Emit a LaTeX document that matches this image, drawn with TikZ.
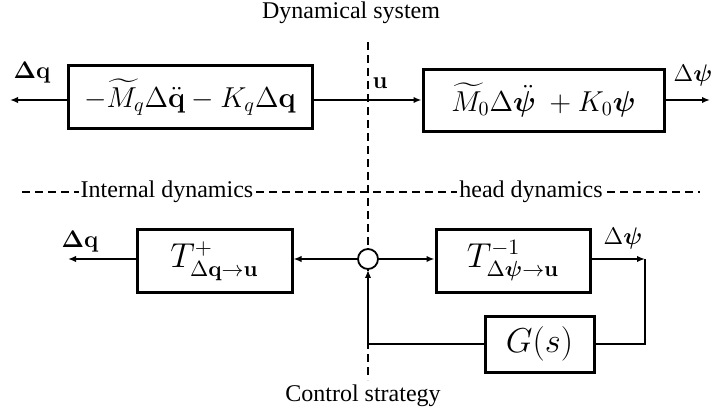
\documentclass[tikz,border=0pt]{standalone}
\usepackage{amsmath,bm}
\usepackage[no-math]{fontspec}
\setmainfont{Liberation Serif}
\usetikzlibrary{arrows.meta,positioning}

\begin{document}
\begin{tikzpicture}[x=0.5pt,y=-0.5pt,>={Latex[length=4pt,width=3.2pt]},
  blk/.style={draw,line width=1.5pt,inner sep=0pt,font=\fontsize{16}{18}\selectfont},
  wide/.style={font=\fontsize{14}{16}\selectfont},
  lbl/.style={font=\fontsize{12}{14}\selectfont},
  txt/.style={font=\fontsize{12}{14}\selectfont},
  sep/.style={line width=0.7pt,dash pattern=on 4pt off 2.5pt},
  conn/.style={line width=0.8pt}]
\useasboundingbox (0,0) rectangle (717,412);
% separating lines
\draw[sep] (368,42) -- (368,380);
\draw[sep] (22,192) -- (700,192);
\node[txt,fill=white,inner sep=1pt] (intl) at (167,192) {Internal dynamics};
\node[txt,fill=white,inner sep=1pt] (head) at (531,192) {head dynamics};
\node[txt] (title) at (351,13) {Dynamical system};
\node[txt] (ctrl) at (363,396) {Control strategy};
% dynamical system
\node[blk,wide,minimum width=122pt,minimum height=31.5pt] (mq) at (190,97)
  {$-\widetilde{M}_q\Delta\ddot{\mathbf{q}}-K_q\Delta\mathbf{q}$};
\node[blk,wide,minimum width=120.5pt,minimum height=31pt] (m0) at (543.5,100)
  {$\widetilde{M}_0\Delta\ddot{\bm{\psi}}\ +K_0\bm{\psi}$};
\coordinate (qout) at (10,100);
\coordinate (psiout) at (710,100);
\draw[conn,->] (mq.east |- m0) -- (m0);
\draw[conn,->] (mq.west |- qout) -- (qout);
\draw[conn,->] (m0) -- (psiout);
\node[lbl] (dq) at (32,73) {$\mathbf{\Delta q}$};
\node[lbl] (u) at (380,83) {$\mathbf{u}$};
\node[lbl] (dpsi) at (693,75) {$\Delta\bm{\psi}$};
% control strategy
\node[blk,minimum width=77.5pt,minimum height=31.5pt] (tq) at (214.5,261)
  {$T^{+}_{\Delta\mathbf{q}\rightarrow\mathbf{u}}$};
\node[draw,circle,fill=white,line width=0.9pt,minimum size=10pt,inner sep=0pt] (sum) at (368,259) {};
\node[blk,minimum width=77pt,minimum height=31.5pt] (tpsi) at (513,260.5)
  {$T^{-1}_{\Delta\bm{\psi}\rightarrow\mathbf{u}}$};
\node[blk,minimum width=54.5pt,minimum height=28pt] (gs) at (539.5,344) {$G(s)$};
\coordinate (qlow) at (68,259);
\coordinate (psilow) at (645,259);
\draw[conn,->] (sum) -- (tq.east |- sum);
\draw[conn,->] (sum) -- (tpsi.west |- sum);
\draw[conn,->] (tq.west |- sum) -- (qlow);
\draw[conn,->] (tpsi.east |- sum) -- (psilow);
\draw[conn] (psilow) |- (gs);
\draw[conn,->] (gs) -| (sum);
\node[lbl] (dq2) at (80,242) {$\mathbf{\Delta q}$};
\node[lbl] (dpsi2) at (623,238) {$\Delta\bm{\psi}$};
\end{tikzpicture}
\end{document}
